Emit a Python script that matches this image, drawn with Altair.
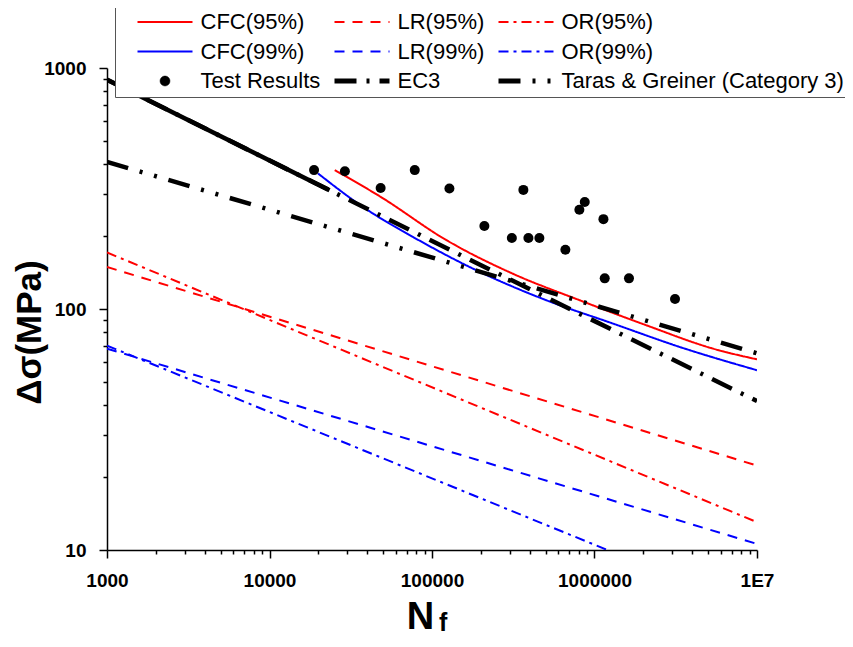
import altair as alt
import pandas as pd

# ---- series names ----
CFC95, LR95, OR95 = "CFC(95%)", "LR(95%)", "OR(95%)"
CFC99, LR99, OR99 = "CFC(99%)", "LR(99%)", "OR(99%)"
TR, EC3, TG = "Test Results", "EC3", "Taras & Greiner (Category 3)"
# legend is filled column by column (3 rows x 3 columns)
series_order = [CFC95, CFC99, TR, LR95, LR99, EC3, OR95, OR99, TG]

# ---- data ----
test_N = [18800, 29100, 48300, 78300, 128000, 210000, 310000, 365000, 392000,
          458000, 662000, 807000, 871000, 1135000, 1156000, 1630000, 3130000]
test_S = [377, 373, 318, 377, 316, 221, 197, 312, 197,
          197, 176, 258, 278, 236, 134, 134, 110]

cfc95_N = [25200, 48300, 122700, 315000, 811000, 2085000, 5360000, 10000000]
cfc95_S = [377, 292, 193, 140, 108.7, 85.6, 68.5, 61.8]

cfc99_N = [19900, 37600, 76400, 196600, 506000, 1300000, 3340000, 10000000]
cfc99_S = [365, 265, 199, 142.6, 108.7, 87, 69.6, 55.7]

lr95_N = [1000, 10000000]
lr95_S = [149.5, 22.4]
or95_N = [1000, 10000000]
or95_S = [171.6, 13.05]
lr99_N = [1000, 10000000]
lr99_S = [68.5, 10.6]
or99_N = [1000, 1200000]
or99_S = [70.5, 10]
ec3_N = [1000, 23400, 10000000]
ec3_S = [894, 311, 41.5]
tg_N = [1000, 10000000]
tg_S = [408, 65.5]

x_ticks = [k * 10 ** d for d in range(3, 7) for k in range(1, 10)] + [10 ** 7]
y_ticks = [k * 10 ** d for d in range(1, 3) for k in range(1, 10)] + [1000]

# ---- tables ----
line_parts = [(CFC95, cfc95_N, cfc95_S), (LR95, lr95_N, lr95_S), (OR95, or95_N, or95_S),
              (CFC99, cfc99_N, cfc99_S), (LR99, lr99_N, lr99_S), (OR99, or99_N, or99_S),
              (EC3, ec3_N, ec3_S), (TG, tg_N, tg_S)]
df_lines = pd.concat([pd.DataFrame({"series": s, "N": n, "S": v}) for s, n, v in line_parts],
                     ignore_index=True)
df_pts = pd.DataFrame({"series": TR, "N": test_N, "S": test_S})

# ---- styles ----
style = {
    CFC95: ("#ff0000", [1, 0]), LR95: ("#ff0000", [10, 8]), OR95: ("#ff0000", [10, 5, 3, 5]),
    CFC99: ("#0000ff", [1, 0]), LR99: ("#0000ff", [10, 8]), OR99: ("#0000ff", [10, 5, 3, 5]),
    TR: ("#000000", [1, 0]), EC3: ("#000000", [22, 10, 3, 10]),
    TG: ("#000000", [22, 12, 3, 12, 3, 12]),
}
FONT = "Liberation Sans"

color_scale = alt.Scale(domain=series_order, range=[style[s][0] for s in series_order])
dash_scale = alt.Scale(domain=series_order, range=[style[s][1] for s in series_order])

dot_path = "M-0.18,0A0.18,0.18,0,1,0,0.18,0A0.18,0.18,0,1,0,-0.18,0Z"
legend = alt.Legend(
    title=" ", titleOrient="left", titleFontSize=1, titlePadding=17.5,
    orient="none", legendX=8, legendY=-62,
    columns=3, gridAlign="each", columnPadding=4, rowPadding=7.5, padding=5,
    strokeColor="#555555", fillColor="white",
    labelFont=FONT, labelFontSize=22, labelColor="black", labelLimit=0,
    symbolSize=3025, symbolOffset=16.5, labelOffset=24.5,
    symbolType={"expr": f"datum.value == '{TR}' ? '{dot_path}' : 'stroke'"},
    symbolStrokeWidth={"expr": f"datum.value == '{TR}' ? 0.5 : (datum.value == '{EC3}' || datum.value == '{TG}') ? 5 : 2"},
    symbolFillColor={"expr": f"datum.value == '{TR}' ? 'black' : 'transparent'"},
)

major = "abs(log(datum.value)/LN10 - round(log(datum.value)/LN10)) < 0.000001"
axis_common = dict(grid=False, domainColor="black", domainWidth=1.5, tickColor="black",
                   tickWidth=1.5, tickSize={"condition": {"test": major, "value": 8}, "value": 4},
                   labelFont=FONT, labelFontSize=19, labelFontWeight="bold", labelColor="black",
                   labelOverlap=False, labelFlush=False, labelPadding=13,
                   titleFont=FONT, titleFontWeight="bold", titleColor="black")

x_enc = alt.X("N:Q", scale=alt.Scale(type="log", domain=[1000, 10 ** 7], nice=False),
              axis=alt.Axis(values=x_ticks,
                            labelExpr=f"datum.value == 10000000 ? '1E7' : ({major} ? format(datum.value, 'd') : '')",
                            title="N", titleFontSize=38, titleX=313, titleY=78,
                            titleAlign="center", titleBaseline="alphabetic", **axis_common))
y_enc = alt.Y("S:Q", scale=alt.Scale(type="log", domain=[10, 1000], nice=False),
              axis=alt.Axis(values=y_ticks,
                            labelExpr=f"{major} ? format(datum.value, 'd') : ''",
                            title="Δσ(MPa)", titleFontSize=35, titleX=-78, titleY=264,
                            titleAngle=-90, titleAlign="center", titleBaseline="middle",
                            **axis_common))

lines = alt.Chart(df_lines).mark_line(clip=True, strokeCap="butt", interpolate="monotone").encode(
    x=x_enc, y=y_enc,
    color=alt.Color("series:N", scale=color_scale, legend=legend),
    strokeDash=alt.StrokeDash("series:N", scale=dash_scale, legend=legend),
    strokeWidth=alt.condition(alt.FieldOneOfPredicate(field="series", oneOf=[EC3, TG]),
                              alt.value(4.5), alt.value(2)),
)

ec3_solid = alt.Chart(df_lines).transform_filter(
    (alt.datum.series == EC3) & (alt.datum.N <= ec3_N[1])
).mark_line(color="black", strokeWidth=4.5, strokeCap="butt", clip=True).encode(x=x_enc, y=y_enc)

points = alt.Chart(df_pts).mark_circle(size=100, opacity=1).encode(
    x=x_enc, y=y_enc,
    color=alt.Color("series:N", scale=color_scale, legend=None),
)

f_sub = alt.Chart(alt.Data(values=[{}])).mark_text(
    text="f", align="left", baseline="alphabetic", font=FONT, fontSize=25,
    fontWeight="bold", color="black"
).encode(x=alt.value(332), y=alt.value(563))

chart = alt.layer(lines, ec3_solid, points, f_sub).properties(
    width=650, height=482,
    autosize=alt.AutoSizeParams(type="none"),
    padding={"left": 99, "top": 60, "right": 88, "bottom": 87},
    background="white",
).configure_view(stroke=None)

chart.save("out.html", embed_options={"renderer": "svg", "actions": False})
